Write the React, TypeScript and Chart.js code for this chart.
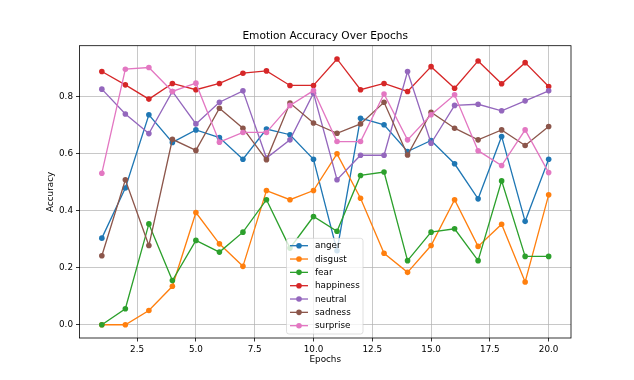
import React, { useEffect, useRef } from "react";
import { Chart, registerables } from "chart.js";

Chart.register(...registerables);

const epochs = [1, 2, 3, 4, 5, 6, 7, 8, 9, 10, 11, 12, 13, 14, 15, 16, 17, 18, 19, 20];
const anger = [0.304, 0.48, 0.737, 0.64, 0.684, 0.657, 0.581, 0.687, 0.667, 0.581, 0.26, 0.725, 0.702, 0.608, 0.647, 0.565, 0.442, 0.661, 0.363, 0.581];
const disgust = [0, 0, 0.05, 0.135, 0.394, 0.284, 0.205, 0.471, 0.439, 0.471, 0.6, 0.444, 0.251, 0.184, 0.278, 0.439, 0.275, 0.353, 0.15, 0.456];
const fear = [0, 0.056, 0.354, 0.155, 0.296, 0.255, 0.325, 0.439, 0.269, 0.38, 0.328, 0.524, 0.536, 0.225, 0.325, 0.337, 0.225, 0.505, 0.24, 0.24];
const happiness = [0.889, 0.842, 0.792, 0.847, 0.825, 0.847, 0.883, 0.891, 0.84, 0.84, 0.933, 0.825, 0.847, 0.819, 0.906, 0.83, 0.926, 0.846, 0.92, 0.836];
const neutral = [0.827, 0.74, 0.671, 0.819, 0.705, 0.781, 0.821, 0.585, 0.649, 0.813, 0.509, 0.595, 0.595, 0.889, 0.637, 0.77, 0.774, 0.751, 0.786, 0.821];
const sadness = [0.242, 0.509, 0.278, 0.651, 0.612, 0.76, 0.69, 0.579, 0.778, 0.708, 0.672, 0.705, 0.781, 0.596, 0.746, 0.69, 0.649, 0.684, 0.629, 0.696];
const surprise = [0.532, 0.897, 0.903, 0.819, 0.848, 0.641, 0.675, 0.675, 0.77, 0.822, 0.643, 0.643, 0.81, 0.649, 0.737, 0.807, 0.611, 0.559, 0.684, 0.534];

const seriesNames = ["anger", "disgust", "fear", "happiness", "neutral", "sadness", "surprise"];
const seriesValues = [anger, disgust, fear, happiness, neutral, sadness, surprise];
const seriesColors = ["#1f77b4", "#ff7f0e", "#2ca02c", "#d62728", "#9467bd", "#8c564b", "#e377c2"];

const xTicks = [2.5, 5.0, 7.5, 10.0, 12.5, 15.0, 17.5, 20.0];
const yTicks = [0.0, 0.2, 0.4, 0.6, 0.8];

const titleText = "Emotion Accuracy Over Epochs";
const xTitle = "Epochs";
const yTitle = "Accuracy";

const FONT = "'DejaVu Sans', sans-serif";

const decorPlugin = {
  id: "decor",
  afterDatasetsDraw(chart: any) {
    const { ctx, chartArea } = chart;
    const { left, right, top, bottom } = chartArea;
    ctx.save();
    // spines
    ctx.strokeStyle = "#000";
    ctx.lineWidth = 0.8;
    ctx.strokeRect(left, top, right - left, bottom - top);
    // title
    ctx.fillStyle = "#000";
    ctx.font = `10.6px ${FONT}`;
    ctx.textAlign = "center";
    ctx.textBaseline = "middle";
    ctx.fillText(titleText, (left + right) / 2, 36);
    // axis titles
    ctx.font = `8.8px ${FONT}`;
    ctx.fillText(xTitle, (left + right) / 2, 360);
    ctx.save();
    ctx.translate(50.5, (top + bottom) / 2);
    ctx.rotate(-Math.PI / 2);
    ctx.fillText(yTitle, 0, 0);
    ctx.restore();
    ctx.restore();
  },
  afterDraw(chart: any) {
    const { ctx, chartArea } = chart;
    const bx = chartArea.left + 207;
    const by = 238.3;
    const bw = 76.5;
    const bh = 95.7;
    ctx.save();
    ctx.beginPath();
    const r = 2.5;
    ctx.moveTo(bx + r, by);
    ctx.lineTo(bx + bw - r, by);
    ctx.arcTo(bx + bw, by, bx + bw, by + r, r);
    ctx.lineTo(bx + bw, by + bh - r);
    ctx.arcTo(bx + bw, by + bh, bx + bw - r, by + bh, r);
    ctx.lineTo(bx + r, by + bh);
    ctx.arcTo(bx, by + bh, bx, by + bh - r, r);
    ctx.lineTo(bx, by + r);
    ctx.arcTo(bx, by, bx + r, by, r);
    ctx.closePath();
    ctx.fillStyle = "rgba(255,255,255,0.8)";
    ctx.fill();
    ctx.strokeStyle = "rgba(204,204,204,0.8)";
    ctx.lineWidth = 0.8;
    ctx.stroke();
    ctx.font = `8.8px ${FONT}`;
    ctx.textAlign = "left";
    ctx.textBaseline = "middle";
    seriesNames.forEach((name, i) => {
      const y = by + 7.4 + i * 13.33;
      ctx.strokeStyle = seriesColors[i];
      ctx.lineWidth = 1.32;
      ctx.beginPath();
      ctx.moveTo(bx + 3.5, y);
      ctx.lineTo(bx + 21.5, y);
      ctx.stroke();
      ctx.fillStyle = seriesColors[i];
      ctx.beginPath();
      ctx.arc(bx + 12.5, y, 2.8, 0, Math.PI * 2);
      ctx.fill();
      ctx.fillStyle = "#000";
      ctx.fillText(name, bx + 28.5, y + 0.5);
    });
    ctx.restore();
  },
};

export default function App() {
  const ref = useRef<HTMLCanvasElement | null>(null);
  useEffect(() => {
    document.body.style.margin = "0";
    const canvas = ref.current;
    if (!canvas) return;
    const chart = new Chart(canvas, {
      type: "line",
      data: {
        datasets: seriesNames.map((name, i) => ({
          label: name,
          data: epochs.map((e, j) => ({ x: e, y: seriesValues[i][j] })),
          borderColor: seriesColors[i],
          backgroundColor: seriesColors[i],
          borderWidth: 1.32,
          pointRadius: 2.8,
          pointBorderWidth: 0,
          pointHoverRadius: 2.8,
          fill: false,
          tension: 0,
          order: 10 - i,
        })),
      },
      plugins: [decorPlugin],
      options: {
        responsive: false,
        animation: false,
        devicePixelRatio: 1,
        layout: { padding: { left: 0, right: 63, top: 45.7, bottom: 0 } },
        plugins: {
          legend: { display: false },
          title: { display: false },
          tooltip: { enabled: false },
        },
        scales: {
          x: {
            type: "linear",
            min: 0.05,
            max: 20.95,
            afterFit: (s: any) => {
              s.height = 42;
            },
            afterBuildTicks: (s: any) => {
              s.ticks = xTicks.map((v) => ({ value: v }));
            },
            grid: {
              color: "#b0b0b0",
              lineWidth: 0.7,
              drawTicks: true,
              tickLength: 3.5,
              tickColor: "#000",
              tickWidth: 0.8,
            },
            border: { display: false },
            ticks: {
              padding: 2.5,
              color: "#000",
              font: { family: FONT, size: 8.8 },
              maxRotation: 0,
              callback: (v: any) => Number(v).toFixed(1),
            },
          },
          y: {
            type: "linear",
            min: -0.0465,
            max: 0.9795,
            afterFit: (s: any) => {
              s.width = 79.5;
            },
            afterBuildTicks: (s: any) => {
              s.ticks = yTicks.map((v) => ({ value: v }));
            },
            grid: {
              color: "#b0b0b0",
              lineWidth: 0.7,
              drawTicks: true,
              tickLength: 3.5,
              tickColor: "#000",
              tickWidth: 0.8,
            },
            border: { display: false },
            ticks: {
              padding: 3,
              color: "#000",
              font: { family: FONT, size: 8.8 },
              callback: (v: any) => Number(v).toFixed(1),
            },
          },
        },
      },
    });
    return () => chart.destroy();
  }, []);
  return (
    <div style={{ width: 634, height: 380 }}>
      <canvas ref={ref} width={634} height={380} style={{ display: "block", width: 634, height: 380 }} />
    </div>
  );
}
